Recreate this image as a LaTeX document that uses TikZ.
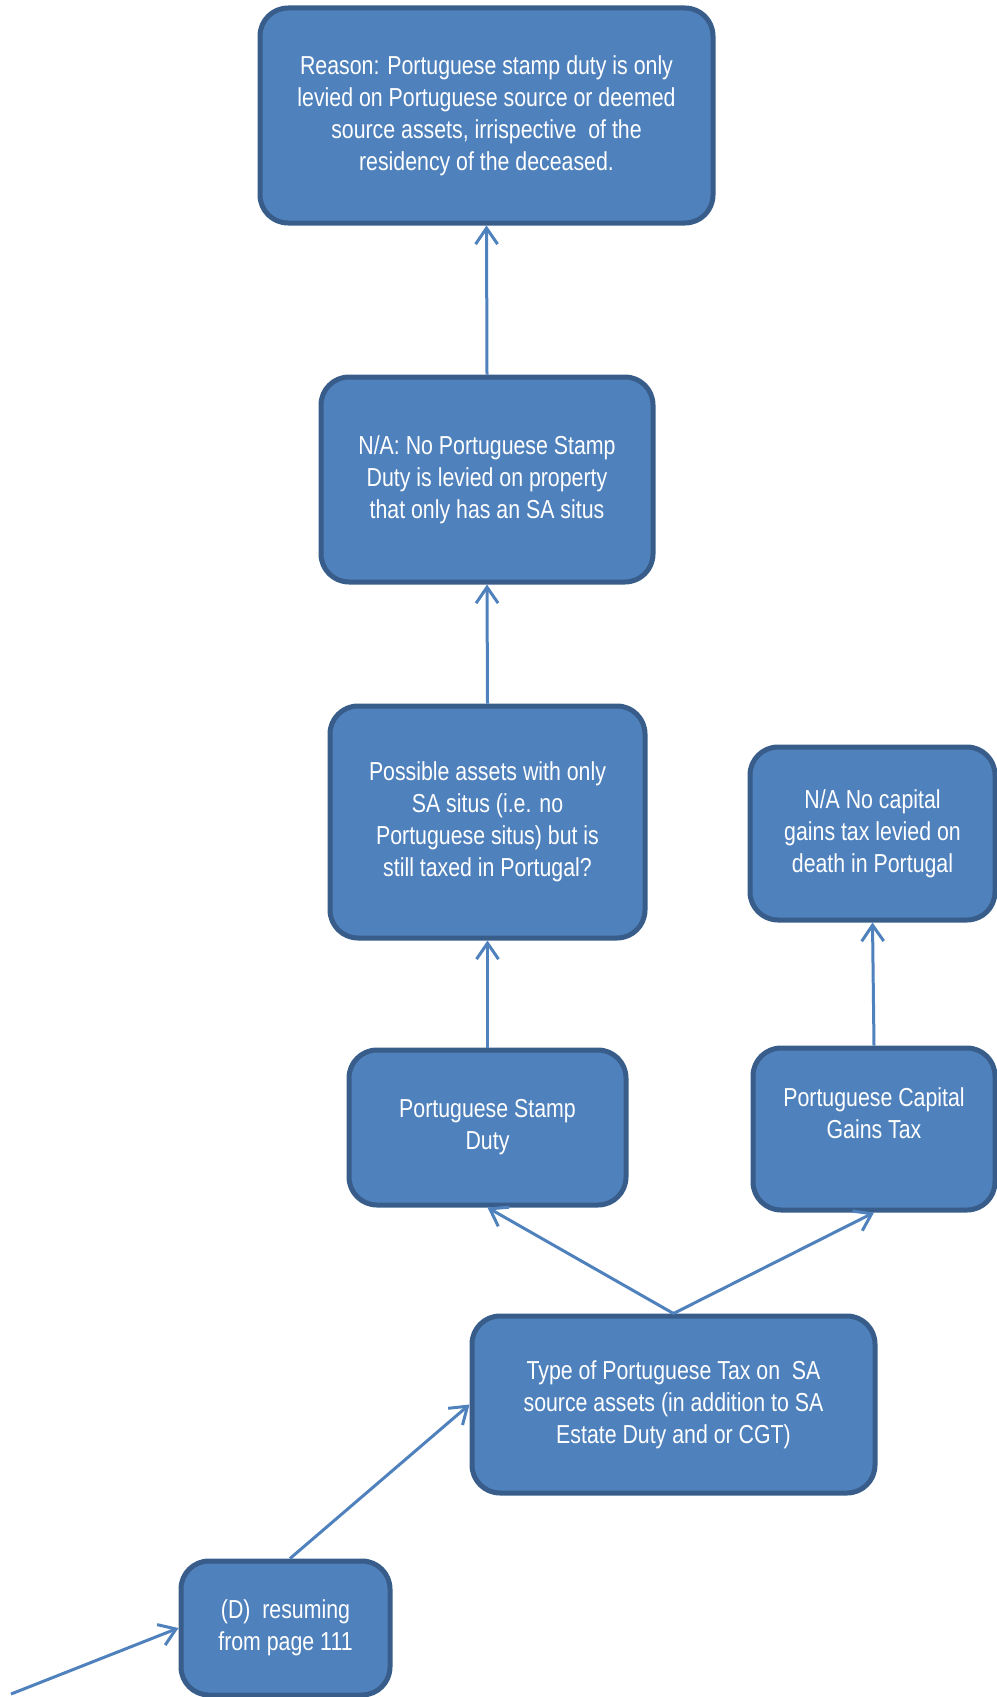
\documentclass[tikz,border=0pt]{standalone}
\usepackage{fontspec}
\setmainfont{Liberation Sans}[FakeStretch=0.82]
\usepackage{tikz}
\usetikzlibrary{positioning,arrows.meta}
\definecolor{boxFill}{HTML}{4F81BD}
\definecolor{boxBorder}{HTML}{385D8A}
\tikzstyle{flowBox} = [draw=boxBorder, fill=boxFill, line width=5bp, rounded corners=28bp, text=white, align=center, inner sep=0pt, font=\fontsize{26bp}{32bp}\selectfont]
\tikzstyle{flowArrow} = [draw=boxFill, line width=3bp, -{Straight Barb[length=16bp,width=22bp]}]
\newcommand{\flowBox}[5]{\node [flowBox, minimum width=#3bp, minimum height=#4bp] (#1) at (#2) {#5};}
\newcommand{\flowArrow}[2]{\draw [flowArrow] (#1) -- (#2);}
\begin{document}
\begin{tikzpicture}[x=1bp, y=-1bp]
\useasboundingbox (0,0) rectangle (996,1697);
\flowBox{reason}{486.5,115.5}{453}{215}{Reason: Portuguese stamp duty is only\\levied on Portuguese source or deemed\\source assets, irrispective\ \ of the\\residency of the deceased.}
\flowBox{naStamp}{487,479.5}{332}{205}{N/A: No Portuguese Stamp\\Duty is levied on property\\that only has an SA situs}
\flowBox{possible}{487.5,822}{315}{232}{Possible assets with only\\SA situs (i.e. no\\Portuguese situs) but is\\still taxed in Portugal?}
\flowBox{naCGT}{872.5,833.5}{245}{173}{N/A No capital\\gains tax levied on\\death in Portugal}
\flowBox{stamp}{487.5,1127.5}{277}{155}{Portuguese Stamp\\Duty}
\node [flowBox, minimum width=242bp, minimum height=162bp, text depth=32bp] (cgt) at (874,1129) {Portuguese Capital\\Gains Tax};
\flowBox{taxType}{673.5,1404.5}{403}{177}{Type of Portuguese Tax on\ \ SA\\source assets (in addition to SA\\Estate Duty and or CGT)}
\flowBox{resume}{285.5,1628}{209}{134}{(D)\ \ resuming\\from page 111}
\coordinate (entry) at (11,1694);
% connectors
\flowArrow{entry}{resume.west}
\draw [flowArrow] (resume.north -| 290,0) -- (taxType.west);
\flowArrow{taxType.north}{stamp.south}
\flowArrow{taxType.north}{cgt.south}
\flowArrow{stamp.north}{possible.south}
\flowArrow{possible.north}{naStamp.south}
\flowArrow{naStamp.north}{reason.south}
\flowArrow{cgt.north}{naCGT.south}
\end{tikzpicture}
\end{document}
